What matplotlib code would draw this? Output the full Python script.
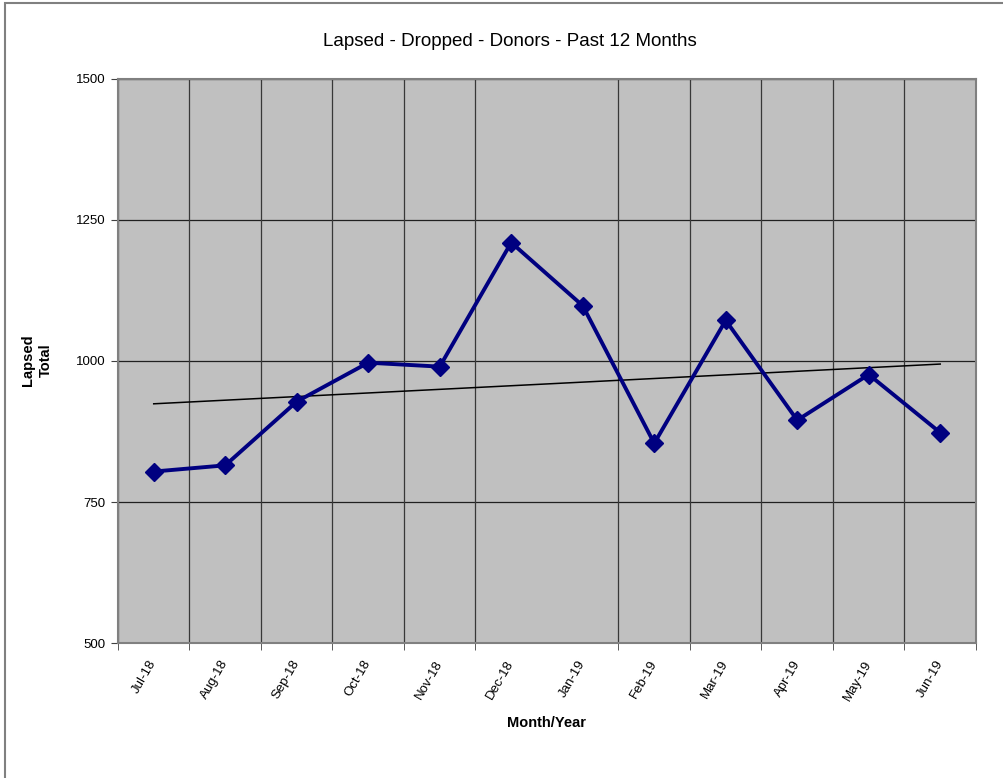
import numpy as np
import matplotlib.pyplot as plt
from matplotlib.patches import Rectangle

plt.rcParams['font.family'] = ['Liberation Sans', 'DejaVu Sans']

months = ['Jul-18', 'Aug-18', 'Sep-18', 'Oct-18', 'Nov-18', 'Dec-18',
          'Jan-19', 'Feb-19', 'Mar-19', 'Apr-19', 'May-19', 'Jun-19']
lapsed = [804, 815, 928, 997, 990, 1210, 1098, 854, 1072, 895, 976, 873]
y_ticks = [500, 750, 1000, 1250, 1500]

x = np.arange(len(months))

fig = plt.figure(figsize=(10.04, 7.78), dpi=100)
ax = fig.add_axes([0.1175, 0.1735, 0.8546, 0.725])
ax.set_facecolor('#C0C0C0')

# outer frame (top and left edges visible)
fig.patches.append(Rectangle((5 / 1004, -0.1), 2, (778 - 3) / 778 + 0.1,
                             transform=fig.transFigure, fill=False,
                             edgecolor='#808080', linewidth=1.5))

# gridlines
for yv in y_ticks:
    ax.axhline(yv, color='#202020', linewidth=0.9, zorder=1)
bounds = [b for b in np.arange(-0.5, len(months), 1.0) if b != 5.5]
for b in bounds:
    ax.axvline(b, color='#383838', linewidth=0.9, zorder=1)

ax.plot(x, lapsed, color='#000080', linewidth=2.8, marker='D',
        markersize=9.5, zorder=3)

# linear trendline
k, c = np.polyfit(x, lapsed, 1)
ax.plot(x, k * x + c, color='black', linewidth=1.1, zorder=2)

ax.set_xlim(-0.5, len(months) - 0.5)
ax.set_ylim(500, 1500)
ax.set_yticks(y_ticks)
ax.set_yticklabels([str(v) for v in y_ticks], fontsize=9.5)
ax.set_xticks(x)
ax.set_xticklabels(months, fontsize=9.5, rotation=60, ha='right',
                   va='center', rotation_mode='anchor')
ax.tick_params(axis='x', length=0, pad=13)
ax.set_xticks(bounds, minor=True)
ax.tick_params(axis='x', which='minor', length=5, direction='out', color='#404040')
ax.tick_params(axis='y', length=5, direction='out', color='#404040', pad=4)

for s in ax.spines.values():
    s.set_color('#808080')
    s.set_linewidth(1.5)

fig.text(510 / 1004, 1 - 41 / 778, 'Lapsed - Dropped - Donors - Past 12 Months',
         fontsize=13.5, ha='center', va='center')
ax.set_xlabel('Month/Year', fontsize=10.5, fontweight='bold', labelpad=10)
fig.text(37 / 1004, 1 - 360 / 778, 'Lapsed\nTotal', fontsize=10.5,
         fontweight='bold', rotation=90, ha='center', va='center',
         multialignment='center', linespacing=1.4)

fig.savefig('out.png', dpi=100)
